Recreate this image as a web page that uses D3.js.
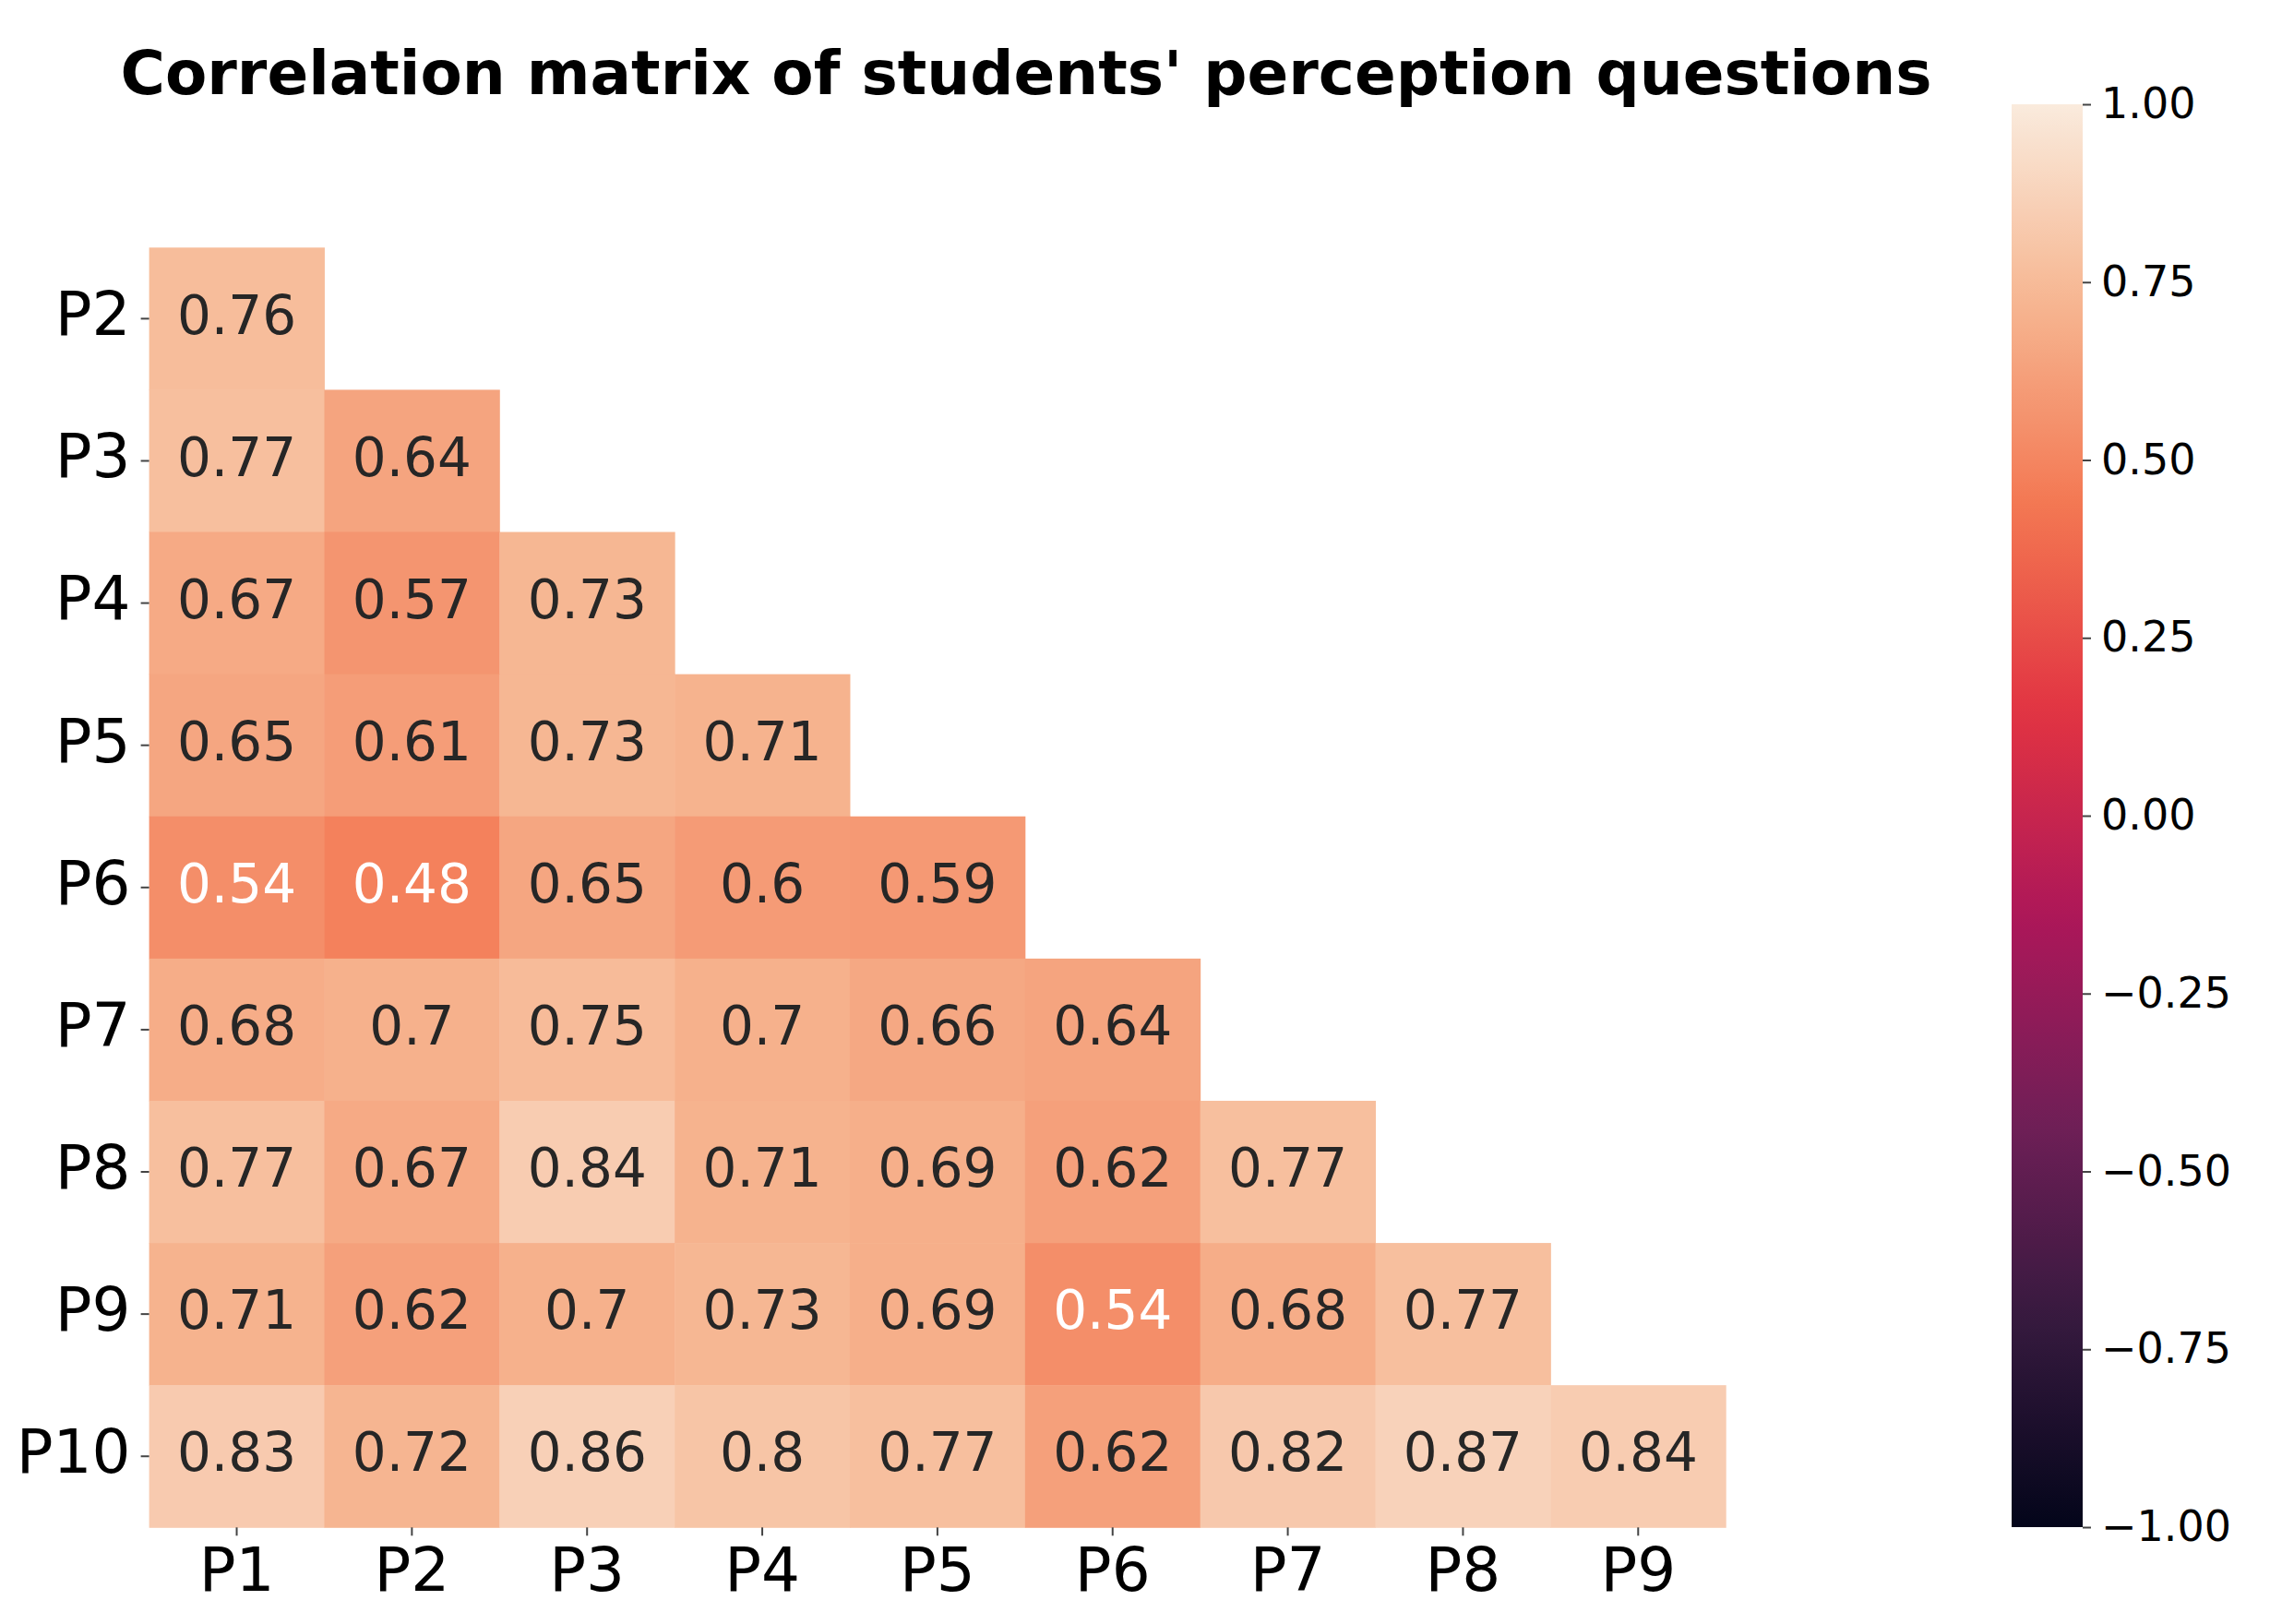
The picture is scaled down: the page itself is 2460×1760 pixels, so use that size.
<!DOCTYPE html>
<html>
<head>
<meta charset="utf-8">
<script src="https://cdn.jsdelivr.net/npm/d3@7"></script>
<style>
  body { margin: 0; background: #fff; }
  text { font-family: "DejaVu Sans", sans-serif; }
</style>
</head>
<body>
<div id="chart"></div>
<script>
// rows P2..P10, columns P1..P9 (lower triangle only)
var rowLabels = ["P2", "P3", "P4", "P5", "P6", "P7", "P8", "P9", "P10"];
var colLabels = ["P1", "P2", "P3", "P4", "P5", "P6", "P7", "P8", "P9"];
var corrRows = [
  [0.76],
  [0.77, 0.64],
  [0.67, 0.57, 0.73],
  [0.65, 0.61, 0.73, 0.71],
  [0.54, 0.48, 0.65, 0.6, 0.59],
  [0.68, 0.7, 0.75, 0.7, 0.66, 0.64],
  [0.77, 0.67, 0.84, 0.71, 0.69, 0.62, 0.77],
  [0.71, 0.62, 0.7, 0.73, 0.69, 0.54, 0.68, 0.77],
  [0.83, 0.72, 0.86, 0.8, 0.77, 0.62, 0.82, 0.87, 0.84]
];
var colorbarTicks = [1, 0.75, 0.5, 0.25, 0, -0.25, -0.5, -0.75, -1];

// seaborn "rocket" approximated by a few stops
var rocketStops = ["#03051a", "#35193e", "#701f57", "#ad1759", "#e13342", "#f37651", "#f6b48f", "#faebdd"];

var W = 2460, H = 1760;
var svg = d3.select("#chart").append("svg")
  .attr("width", W)
  .attr("height", H);

// heatmap box (window.top is reserved, so use other names)
var hmLeft = 161.6, hmTop = 268.3, hmRight = 1870.2, hmBottom = 1655.3;

var x = d3.scaleBand().domain(colLabels).range([hmLeft, hmRight]);
var y = d3.scaleBand().domain(rowLabels).range([hmTop, hmBottom]);

var pos = d3.scaleLinear().domain([-1, 1]).range([0, 1]);
var rocket = d3.scaleLinear()
  .domain(rocketStops.map(function(d, i) { return i / (rocketStops.length - 1); }))
  .range(rocketStops)
  .interpolate(d3.interpolateRgb);
function color(v) { return rocket(pos(v)); }

function luminance(c) {
  var rgb = d3.rgb(c);
  var lin = [rgb.r, rgb.g, rgb.b].map(function(v) {
    v = v / 255;
    return v <= 0.03928 ? v / 12.92 : Math.pow((v + 0.055) / 1.055, 2.4);
  });
  return 0.2126 * lin[0] + 0.7152 * lin[1] + 0.0722 * lin[2];
}

var cells = [];
corrRows.forEach(function(row, j) {
  row.forEach(function(v, i) {
    cells.push({ row: rowLabels[j], col: colLabels[i], value: v });
  });
});

svg.append("g").selectAll("rect")
  .data(cells)
  .enter().append("rect")
  .attr("x", function(d) { return x(d.col); })
  .attr("y", function(d) { return y(d.row); })
  .attr("width", x.bandwidth() + 0.5)
  .attr("height", y.bandwidth() + 0.5)
  .attr("fill", function(d) { return color(d.value); });

svg.append("g").selectAll("text")
  .data(cells)
  .enter().append("text")
  .attr("x", function(d) { return x(d.col) + x.bandwidth() / 2; })
  .attr("y", function(d) { return y(d.row) + y.bandwidth() / 2; })
  .attr("dy", "0.28em")
  .attr("text-anchor", "middle")
  .style("font-size", "58px")
  .attr("fill", function(d) { return luminance(color(d.value)) > 0.408 ? "#262626" : "#ffffff"; })
  .text(function(d) { return String(d.value); });

// axes
var yAxis = svg.append("g")
  .attr("transform", "translate(" + hmLeft + ",0)")
  .call(d3.axisLeft(y).tickSize(9).tickPadding(11));
var xAxis = svg.append("g")
  .attr("transform", "translate(0," + hmBottom + ")")
  .call(d3.axisBottom(x).tickSize(9).tickPadding(13));
[yAxis, xAxis].forEach(function(ax) {
  ax.select(".domain").remove();
  ax.selectAll(".tick line").attr("stroke", "#444").attr("stroke-width", 2);
  ax.selectAll(".tick text")
    .attr("fill", "#000")
    .style("font-family", "DejaVu Sans, sans-serif")
    .style("font-size", "66px");
});
yAxis.selectAll(".tick text").attr("dy", "0.27em");

// colorbar
var cbLeft = 2180, cbRight = 2257, cbTop = 113, cbBottom = 1655;
var cbScale = d3.scaleLinear().domain([-1, 1]).range([cbBottom, cbTop]);

var grad = svg.append("defs").append("linearGradient")
  .attr("id", "cbgrad")
  .attr("x1", 0).attr("y1", 1).attr("x2", 0).attr("y2", 0);
grad.selectAll("stop")
  .data(d3.range(0, 1.0001, 0.02))
  .enter().append("stop")
  .attr("offset", function(d) { return d; })
  .attr("stop-color", function(d) { return rocket(d); });

svg.append("rect")
  .attr("x", cbLeft)
  .attr("y", cbTop)
  .attr("width", cbRight - cbLeft)
  .attr("height", cbBottom - cbTop)
  .attr("fill", "url(#cbgrad)");

var cbAxis = svg.append("g")
  .attr("transform", "translate(" + cbRight + ",0)")
  .call(d3.axisRight(cbScale)
    .tickValues(colorbarTicks)
    .tickSize(9)
    .tickPadding(11)
    .tickFormat(function(d) { return d3.format(".2f")(d).replace("-", "\u2212"); }));
cbAxis.select(".domain").remove();
cbAxis.selectAll(".tick line").attr("stroke", "#444").attr("stroke-width", 2);
cbAxis.selectAll(".tick text")
  .attr("fill", "#000")
  .style("font-family", "DejaVu Sans, sans-serif")
  .style("font-size", "46px");

// title
svg.append("text")
  .attr("x", 1112)
  .attr("y", 102)
  .attr("text-anchor", "middle")
  .style("font-size", "66px")
  .style("font-weight", "bold")
  .attr("fill", "#000")
  .text("Correlation matrix of students' perception questions");
</script>
</body>
</html>
